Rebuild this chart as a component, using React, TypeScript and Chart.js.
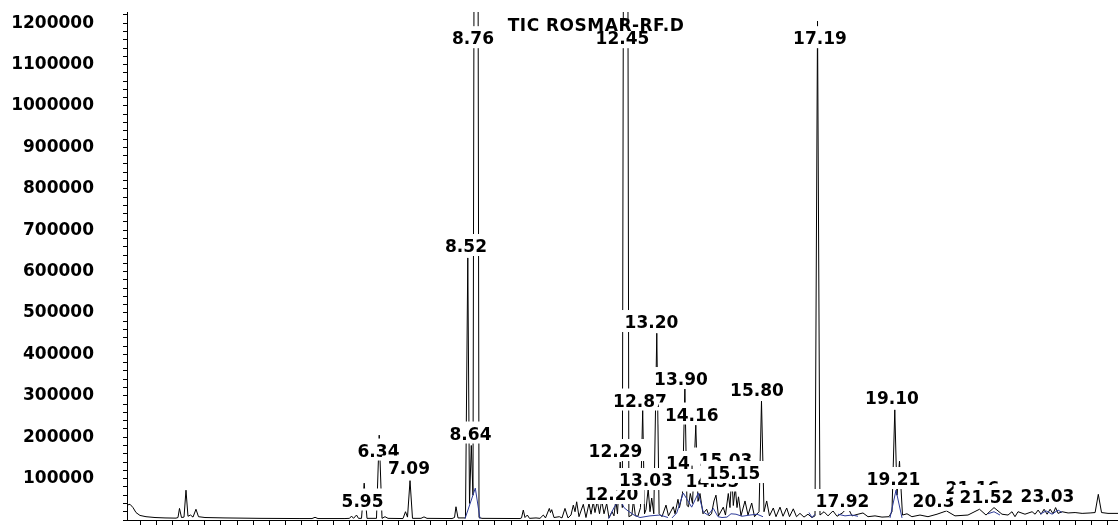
import React, { useEffect, useRef } from 'react';
import { Chart, registerables } from 'chart.js';

Chart.register(...registerables);

// Retention time (min) and abundance of the black TIC trace
const traceTimes = [
  0.165, 0.239, 0.313, 0.387, 0.485, 0.633, 0.855, 1.101, 1.372, 1.421, 1.458, 1.507, 1.569, 1.618, 1.667, 1.729,
  1.791, 1.864, 1.926, 2.086, 2.579, 3.441, 4.426, 4.722, 4.796, 4.869, 5.534, 5.645, 5.695, 5.744, 5.818, 5.867,
  5.941, 6.007, 6.076, 6.175, 6.31, 6.377, 6.446, 6.52, 6.594, 6.963, 7.025, 7.074, 7.136, 7.197, 7.406, 7.48,
  7.554, 8.17, 8.232, 8.268, 8.318, 8.502, 8.559, 8.601, 8.645, 8.687, 8.766, 8.835, 8.909, 9.845, 9.882, 9.926,
  9.968, 10.025, 10.079, 10.239, 10.337, 10.419, 10.473, 10.567, 10.596, 10.626, 10.682, 10.813, 10.879, 10.953,
  11.027, 11.101, 11.158, 11.2, 11.241, 11.298, 11.404, 11.47, 11.544, 11.594, 11.65, 11.692, 11.749, 11.803,
  11.857, 11.914, 11.98, 12.037, 12.111, 12.16, 12.204, 12.246, 12.313, 12.365, 12.45, 12.527, 12.601, 12.638,
  12.687, 12.749, 12.813, 12.867, 12.911, 12.948, 13.002, 13.047, 13.089, 13.14, 13.214, 13.271, 13.342, 13.441,
  13.502, 13.621, 13.663, 13.736, 13.773, 13.847, 13.906, 13.958, 13.995, 14.039, 14.094, 14.175, 14.229, 14.278,
  14.352, 14.443, 14.5, 14.562, 14.623, 14.672, 14.734, 14.852, 14.906, 14.975, 15.017, 15.059, 15.099, 15.148,
  15.19, 15.227, 15.288, 15.387, 15.461, 15.552, 15.621, 15.732, 15.793, 15.855, 15.921, 15.99, 16.084, 16.15,
  16.249, 16.323, 16.414, 16.483, 16.576, 16.655, 16.741, 16.84, 16.938, 17.037, 17.111, 17.173, 17.234, 17.333,
  17.431, 17.554, 17.653, 17.8, 17.911, 18.022, 18.17, 18.293, 18.416, 18.589, 18.761, 18.933, 19.007, 19.076,
  19.13, 19.192, 19.266, 19.377, 19.498, 19.697, 19.894, 20.116, 20.35, 20.559, 20.879, 21.163, 21.323, 21.52,
  21.717, 21.865, 21.963, 22.037, 22.111, 22.283, 22.458, 22.532, 22.606, 22.68, 22.754, 22.828, 22.902, 22.975,
  23.037, 23.098, 23.197, 23.345, 23.517, 23.69, 23.887, 24.01, 24.089, 24.168, 24.328, 24.574,
];
const traceValues = [
  36000, 38000, 30000, 18000, 11000, 8000, 6000, 5000, 4500, 6000, 28000, 6000, 7000, 72000, 9000, 12000,
  7000, 26000, 8000, 6000, 5000, 4000, 3500, 3500, 6500, 3500, 3500, 4000, 9500, 4000, 12000, 4000,
  4000, 89000, 4000, 4000, 4000, 205000, 4000, 8000, 4000, 3500, 20000, 7000, 95000, 4000, 4000, 7500,
  4000, 3500, 6000, 32000, 5000, 5000, 633000, 40000, 180000, 60000, 4000000, 6000, 4000, 3500, 5000, 24000,
  6000, 12000, 4000, 5000, 4000, 12000, 5000, 28000, 18000, 25000, 6000, 8000, 5000, 28000,
  5000, 12000, 36000, 20000, 44000, 8000, 38000, 6000, 40000, 14000, 44000, 18000, 46000, 15000,
  48000, 15000, 40000, 5000, 20000, 10000, 48000, 15000, 140000, 30000, 4200000, 8000, 12000, 48000,
  10000, 9000, 30000, 266000, 15000, 25000, 75000, 20000, 53000, 15000, 451000, 15000, 8000, 36000,
  10000, 32000, 15000, 50000, 30000, 64000, 320000, 35000, 32000, 64000, 40000, 229000, 45000, 64000,
  15000, 26000, 10000, 15000, 46000, 60000, 10000, 31000, 12000, 64000, 30000, 110000, 35000, 80000,
  30000, 56000, 10000, 46000, 12000, 41000, 8000, 20000, 287000, 20000, 46000, 10000, 29000, 8000,
  31000, 9000, 29000, 8000, 27000, 8000, 16000, 7000, 14000, 6000, 10000, 1205000, 12000, 20000,
  10000, 22000, 9000, 18000, 32000, 10000, 14000, 17000, 8000, 10000, 7000, 8000, 20000, 266000,
  60000, 142000, 12000, 15000, 8000, 12000, 8000, 14000, 22000, 10000, 12000, 26000, 12000, 30000,
  14000, 12000, 20000, 8000, 20000, 14000, 20000, 14000, 24000, 14000, 26000, 14000, 26000, 15000,
  30000, 16000, 20000, 17000, 18000, 16000, 17000, 18000, 62000, 18000, 16000, 16000,
];

// Blue trace (segments separated by null)
const blueTimes = [
  8.49, 8.744, 8.86, 8.86,
  12.026, 12.16, 12.308, 12.406, 12.505, 12.653, 12.8, 13.047, 13.293, 13.49, 13.49,
  13.589, 13.705, 13.867, 14.074, 14.236, 14.36, 14.475, 14.606, 14.722, 14.82, 14.943, 15.042, 15.165, 15.313,
  15.51, 15.682, 15.83, 15.83,
  16.963, 17.037, 17.111, 17.111,
  17.677, 17.85, 18.022, 18.17, 18.17,
  18.958, 19.106, 19.254, 19.254,
  21.372, 21.52, 21.667, 21.667,
  22.655, 22.803, 22.951, 23.098, 23.197,
];
const blueValues = [
  3000, 77000, 3000, null,
  3000, 30000, 52000, 30000, 22000, 12000, 6000, 10000, 12000, 6000, null,
  5000, 17000, 65000, 31000, 65000, 19000, 12000, 28000, 8000, 6000, 7000, 15000, 14000, 9000,
  12000, 14000, 8000, null,
  18000, 6000, 14000, null,
  14000, 10000, 12000, 9000, null,
  5000, 72000, 5000, null,
  15000, 20000, 12000, null,
  14000, 22000, 14000, 24000, 18000,
];

// Peak labels (drawing order), placed by time / abundance of the text centre
const peakLabels = [
  '8.76', '12.45', '17.19', '8.52', '13.20', '13.90', '15.80', '12.87', '14.16', '19.10', '8.64', '6.34', '7.09',
  '5.95', '12.29', '12.20', '13.03', '14.41', '15.03', '14.55', '15.15', '19.21', '17.92', '20.35', '21.16',
  '21.52', '23.03',
];
const peakLabelTimes = [
  8.687, 12.369, 17.234, 8.515, 13.084, 13.81, 15.682, 12.8, 14.076, 19.007, 8.626, 6.36, 7.111,
  5.966, 12.197, 12.099, 12.948, 14.106, 14.906, 14.586, 15.103, 19.044, 17.788, 20.177, 20.99,
  21.335, 22.837,
];
const peakLabelValues = [
  1165000, 1165000, 1165000, 663000, 479400, 341700, 314000, 289800, 256000, 295800, 210100, 169000, 128000,
  48300, 167800, 64000, 97800, 138900, 147300, 94200, 114700, 100200, 47100, 48300, 79700,
  56800, 59200,
];

const titleText = 'TIC ROSMAR-RF.D';
const titleTime = 11.717;
const titleValue = 1196000;

const X_MIN = 0.165;
const X_MAX = 24.574;
const Y_MAX = 1227000;
const X_TICK_START = 0.495;
const X_TICK_STEP = 0.397;
const Y_MINOR_STEP = 20000;
const Y_MAJOR_STEP = 100000;

const FONT = 'bold 17px "DejaVu Sans"';

const labelPlugin = {
  id: 'peakLabels',
  afterDatasetsDraw(chart: any) {
    const { ctx } = chart;
    const xs = chart.scales.x;
    const ys = chart.scales.y;
    ctx.save();
    ctx.font = FONT;
    ctx.textAlign = 'center';
    ctx.textBaseline = 'alphabetic';
    const cap = ctx.measureText('0').actualBoundingBoxAscent;
    peakLabels.forEach((txt, i) => {
      const px = xs.getPixelForValue(peakLabelTimes[i]);
      const py = ys.getPixelForValue(peakLabelValues[i]);
      const w = ctx.measureText(txt).width;
      const base = py + cap / 2;
      ctx.fillStyle = '#ffffff';
      ctx.fillRect(px - w / 2 - 6, base - cap - 5, w + 12, cap + 9);
      ctx.fillStyle = '#000000';
      ctx.fillText(txt, px, base);
    });
    (ctx as any).letterSpacing = '0.5px';
    ctx.fillStyle = '#000000';
    ctx.fillText(titleText, xs.getPixelForValue(titleTime), ys.getPixelForValue(titleValue) + cap / 2);
    ctx.restore();
  },
};

export default function App() {
  const canvasRef = useRef<HTMLCanvasElement | null>(null);

  useEffect(() => {
    const canvas = canvasRef.current;
    if (!canvas) return;
    const black = traceTimes.map((t, i) => ({ x: t, y: traceValues[i] }));
    const blue = blueTimes.map((t, i) => ({ x: t, y: blueValues[i] }));
    const chart = new Chart(canvas, {
      type: 'line',
      data: {
        datasets: [
          {
            data: black as any,
            borderColor: '#000000',
            borderWidth: 1,
            pointRadius: 0,
            tension: 0,
            order: 1,
          },
          {
            data: blue as any,
            borderColor: '#2c3a98',
            borderWidth: 1,
            pointRadius: 0,
            tension: 0,
            spanGaps: false,
            order: 0,
          },
        ],
      },
      options: {
        animation: false,
        responsive: false,
        devicePixelRatio: 1,
        events: [],
        layout: { padding: { top: 12, left: 0, right: 0, bottom: 0 } },
        plugins: { legend: { display: false }, tooltip: { enabled: false } },
        scales: {
          x: {
            type: 'linear',
            min: X_MIN,
            max: X_MAX,
            afterBuildTicks: (scale: any) => {
              const ticks: any[] = [];
              for (let v = X_TICK_START; v <= X_MAX + 1e-9; v += X_TICK_STEP) ticks.push({ value: v });
              scale.ticks = ticks;
            },
            afterFit: (scale: any) => {
              scale.height = 5;
              scale.paddingLeft = 0;
              scale.paddingRight = 0;
              scale.paddingTop = 0;
              scale.paddingBottom = 0;
            },
            ticks: { display: false },
            grid: { drawOnChartArea: false, drawTicks: true, tickLength: 5, color: '#000000', lineWidth: 1 },
            border: { display: true, color: '#000000', width: 1 },
          },
          y: {
            type: 'linear',
            min: 0,
            max: Y_MAX,
            afterBuildTicks: (scale: any) => {
              const ticks: any[] = [];
              for (let v = 0; v <= Y_MAX; v += Y_MINOR_STEP) ticks.push({ value: v });
              scale.ticks = ticks;
            },
            afterFit: (scale: any) => {
              scale.width = 127;
              scale.paddingTop = 0;
              scale.paddingBottom = 0;
              scale.paddingLeft = 0;
              scale.paddingRight = 0;
            },
            ticks: {
              autoSkip: false,
              padding: 29,
              color: '#000000',
              font: { family: 'DejaVu Sans', size: 17, weight: 'bold' },
              callback: (value: any) => (value > 0 && value % Y_MAJOR_STEP === 0 ? String(value) : ''),
            },
            grid: { drawOnChartArea: false, drawTicks: true, tickLength: 4, color: '#000000', lineWidth: 1 },
            border: { display: true, color: '#000000', width: 1 },
          },
        },
      },
      plugins: [labelPlugin],
    });
    return () => chart.destroy();
  }, []);

  return (
    <div style={{ position: 'absolute', left: 0, top: 0, width: 1118, height: 525, background: '#fff' }}>
      <canvas ref={canvasRef} width={1118} height={525} style={{ display: 'block' }} />
    </div>
  );
}
